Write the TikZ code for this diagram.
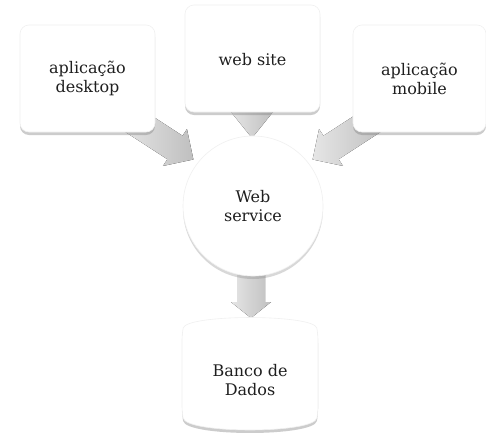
\documentclass[tikz,border=0pt]{standalone}
\usepackage{fontspec}
\setmainfont{DejaVu Serif}
\usetikzlibrary{shadows,shadings}
\begin{document}
\begin{tikzpicture}[x=1pt,y=-1pt,
  lbl/.style={align=center,font=\fontsize{16}{19}\selectfont,text=black!88},
  appbox/.style={rounded corners=9pt,fill=white,draw=gray!12,line width=0.6pt,
    drop shadow={opacity=0.4,shadow xshift=0pt,shadow yshift=-3pt}},
  blockarrow/.style={left color=gray!20,right color=gray!50,draw=none}
]
\useasboundingbox[fill=white] (0,0) rectangle (486,434);
% block arrows (behind the shapes); local frame: tail at x=0, tip at x=L
\begin{scope}[shift={(128,117)},rotate=-33]
  \coordinate (alt) at (0,0);
  \fill[blockarrow] (0,-14) -- (56,-14) -- (56,-22) -- (78,0) -- (56,22) -- (56,14) -- (0,14) -- cycle;
\end{scope}
\begin{scope}[shift={(378,117)},rotate=-147]
  \coordinate (art) at (0,0);
  \fill[blockarrow] (0,-14) -- (56,-14) -- (56,-22) -- (78,0) -- (56,22) -- (56,14) -- (0,14) -- cycle;
\end{scope}
\begin{scope}[shift={(252,100)},rotate=-90]
  \coordinate (amt) at (0,0);
  \fill[blockarrow] (0,-14) -- (12,-14) -- (12,-21) -- (38,0) -- (12,21) -- (12,14) -- (0,14) -- cycle;
\end{scope}
\begin{scope}[shift={(251,268)},rotate=-90]
  \coordinate (adt) at (0,0);
  \fill[blockarrow] (0,-14) -- (34,-14) -- (34,-20) -- (50,0) -- (34,20) -- (34,14) -- (0,14) -- cycle;
\end{scope}
% boxes
\node[appbox,minimum width=135pt,minimum height=107pt] (desk) at (87.5,78.5) {};
\node[lbl] (tdesk) at (desk.center) {aplicação\\desktop};
\node[appbox,minimum width=135pt,minimum height=107pt] (site) at (252.5,58.5) {};
\node[lbl] (tsite) at (252.5,60) {web site};
\node[appbox,minimum width=133pt,minimum height=107pt] (mob) at (419.5,78.5) {};
\node[lbl] (tmob) at (mob.center) {aplicação\\mobile};
% web service circle
\node[circle,minimum size=140pt,fill=white,draw=gray!12,line width=0.6pt,
  drop shadow={opacity=0.3,shadow xshift=0pt,shadow yshift=-3pt}] (ws) at (253,206) {};
\node[lbl] (tws) at (ws.center) {Web\\service};
% database
\path[fill=white,draw=gray!12,line width=0.6pt,rounded corners=6pt,
  drop shadow={opacity=0.4,shadow xshift=0pt,shadow yshift=-3pt}]
  (182,334) .. controls (186,314) and (314,314) .. (318,334) -- (318,412)
  .. controls (314,434) and (186,434) .. (182,412) -- cycle;
\node[lbl] (db) at (250,380) {Banco de\\Dados};
\end{tikzpicture}
\end{document}
